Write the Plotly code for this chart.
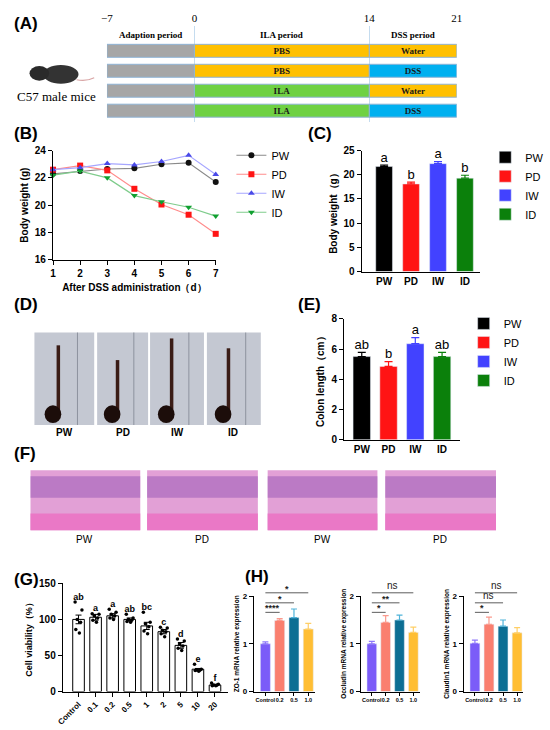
import plotly.graph_objects as go

W, H = 550, 730

# ---------------- data ----------------
period_edges = [-7, 0, 14, 21]
period_names = ["Adaption period", "ILA period", "DSS period"]
groups = ["PW", "PD", "IW", "ID"]
ila_treat = ["PBS", "PBS", "ILA", "ILA"]
dss_treat = ["Water", "DSS", "Water", "DSS"]

days = [1, 2, 3, 4, 5, 6, 7]
bw_pw = [22.3, 22.5, 22.65, 22.7, 23.0, 23.1, 21.7]
bw_pd = [22.6, 22.9, 22.55, 21.2, 20.05, 19.3, 17.9]
bw_iw = [22.6, 22.75, 23.05, 22.95, 23.2, 23.65, 22.25]
bw_id = [22.2, 22.5, 22.0, 20.7, 20.25, 19.85, 19.2]

final_bw = [21.7, 18.1, 22.3, 19.3]
final_bw_err = [0.3, 0.4, 0.4, 0.6]
final_bw_sig = ["a", "b", "a", "b"]

colon_len = [5.5, 4.85, 6.35, 5.5]
colon_err = [0.28, 0.32, 0.4, 0.28]
colon_sig = ["ab", "b", "a", "ab"]

via_labels = ["Control", "0.1", "0.2", "0.5", "1", "2", "5", "10", "20"]
via_mean = [100, 103, 105, 100, 91, 83, 64, 31, 9]
via_sem = [6, 4, 3, 2, 5, 3, 4, 1, 1]
via_points = [
    [124, 113, 100, 96, 86, 81],
    [108, 107, 105, 102, 99, 96],
    [114, 110, 107, 105, 102, 100],
    [107, 102, 100, 99, 97, 96],
    [110, 96, 94, 90, 84, 80],
    [89, 88, 85, 83, 80, 76],
    [73, 70, 66, 63, 60, 57],
    [38, 31, 30, 30, 29, 28],
    [12, 10, 9, 9, 8, 8],
]
via_sig = ["ab", "a", "a", "ab", "bc", "c", "d", "e", "f"]

h_groups = ["Control", "0.2", "0.5", "1.0"]
zo1 = [1.0, 1.49, 1.55, 1.31]
zo1_err = [0.04, 0.04, 0.18, 0.12]
zo1_sig = ["****", "*", "*"]
occ = [1.0, 1.45, 1.5, 1.24]
occ_err = [0.05, 0.14, 0.1, 0.11]
occ_sig = ["*", "**", "ns"]
cld = [1.01, 1.41, 1.37, 1.23]
cld_err = [0.07, 0.15, 0.13, 0.11]
cld_sig = ["*", "ns", "ns"]

# ---------------- styles ----------------
SANS = "Liberation Sans, Arial, sans-serif"
SERIF = "Liberation Serif, Times New Roman, serif"
treat_col = {"PBS": "#ffc000", "ILA": "#6fd143", "Water": "#ffc000", "DSS": "#00b0f0"}
bar_col = {"PW": "#000000", "PD": "#ff1414", "IW": "#4242ff", "ID": "#0b800b"}
line_col = {"PW": "#8a8a8a", "PD": "#ff8c8c", "IW": "#a6a6ff", "ID": "#7fcc8c"}
mark_col = {"PW": "#111111", "PD": "#ff1414", "IW": "#4a4ae8", "ID": "#10a030"}
mark_sym = {"PW": "circle", "PD": "square", "IW": "triangle-up", "ID": "triangle-down"}
h_col = ["#7b5cf8", "#fa7f6f", "#0c6e93", "#ffbe33"]
h_err_col = ["#8f78fa", "#fb9a8d", "#4fb3d9", "#ffcf66"]
bracket_lv = [1.66, 1.86, 2.07]
H_YMAX = 2


def xd(a, b):
    return [a / W, b / W]


def yd(top, bottom):
    return [1 - bottom / H, 1 - top / H]


def prism(**kw):
    d = dict(showline=True, linecolor="black", linewidth=1.2, ticks="outside",
             ticklen=4, tickwidth=1.2, tickcolor="black", showgrid=False,
             zeroline=False, tickfont=dict(size=10, family=SANS, weight="bold", color="black"))
    d.update(kw)
    return d


fig = go.Figure()

# ---------------- (A) timeline ----------------
rows = groups
fig.add_trace(go.Bar(y=rows, x=[period_edges[1] - period_edges[0]] * 4, base=period_edges[0],
                     orientation="h", width=0.65, marker=dict(color="#a6a6a6", line=dict(color="#8fb4d6", width=1)),
                     xaxis="x", yaxis="y", showlegend=False, hoverinfo="skip"))
fig.add_trace(go.Bar(y=rows, x=[period_edges[2] - period_edges[1]] * 4, base=period_edges[1],
                     orientation="h", width=0.65, text=ila_treat, textposition="inside",
                     insidetextanchor="middle", textangle=0, constraintext="none",
                     textfont=dict(family=SERIF, size=9, weight="bold", color="#1a1a1a"),
                     marker=dict(color=[treat_col[t] for t in ila_treat], line=dict(color="#8fb4d6", width=1)),
                     xaxis="x", yaxis="y", showlegend=False, hoverinfo="skip"))
fig.add_trace(go.Bar(y=rows, x=[period_edges[3] - period_edges[2]] * 4, base=period_edges[2],
                     orientation="h", width=0.65, text=dss_treat, textposition="inside",
                     insidetextanchor="middle", textangle=0, constraintext="none",
                     textfont=dict(family=SERIF, size=9, weight="bold", color="#1a1a1a"),
                     marker=dict(color=[treat_col[t] for t in dss_treat], line=dict(color="#8fb4d6", width=1)),
                     xaxis="x", yaxis="y", showlegend=False, hoverinfo="skip"))

# ---------------- (B) body weight over time ----------------
for g, vals in zip(groups, [bw_pw, bw_pd, bw_iw, bw_id]):
    fig.add_trace(go.Scatter(x=days, y=vals, name=g, mode="lines+markers", cliponaxis=False,
                             line=dict(color=line_col[g], width=1.2),
                             marker=dict(symbol=mark_sym[g], size=6, color=mark_col[g]),
                             xaxis="x2", yaxis="y2", legend="legend"))

# ---------------- (C) final body weight ----------------
for i, g in enumerate(groups):
    fig.add_trace(go.Bar(x=[g], y=[final_bw[i]], name=g, width=0.62, marker_color=bar_col[g],
                         error_y=dict(type="data", array=[final_bw_err[i]], arrayminus=[0], symmetric=False,
                                      color=bar_col[g], thickness=1.2, width=4),
                         xaxis="x3", yaxis="y3", legend="legend2"))
fig.add_trace(go.Scatter(x=groups, y=[v + e for v, e in zip(final_bw, final_bw_err)], text=final_bw_sig,
                         mode="text", textposition="top center", cliponaxis=False,
                         textfont=dict(size=13, family=SANS, color="black"),
                         xaxis="x3", yaxis="y3", showlegend=False))

# ---------------- (E) colon length ----------------
for i, g in enumerate(groups):
    fig.add_trace(go.Bar(x=[g], y=[colon_len[i]], name=g, width=0.65, marker_color=bar_col[g],
                         error_y=dict(type="data", array=[colon_err[i]], arrayminus=[0], symmetric=False,
                                      color=bar_col[g], thickness=1.2, width=4),
                         xaxis="x4", yaxis="y4", legend="legend3"))
fig.add_trace(go.Scatter(x=groups, y=[v + e for v, e in zip(colon_len, colon_err)], text=colon_sig,
                         mode="text", textposition="top center", cliponaxis=False,
                         textfont=dict(size=13, family=SANS, color="black"),
                         xaxis="x4", yaxis="y4", showlegend=False))

# ---------------- (G) cell viability ----------------
gx = list(range(len(via_labels)))
fig.add_trace(go.Bar(x=gx, y=via_mean, width=0.68, marker=dict(color="white", line=dict(color="black", width=1)),
                     error_y=dict(type="data", array=via_sem, color="black", thickness=1, width=3),
                     xaxis="x5", yaxis="y5", showlegend=False))
jit = [-0.2, 0.2, -0.08, 0.12, -0.16, 0.05]
px_, py_ = [], []
for i, pts in enumerate(via_points):
    for j, p in enumerate(pts):
        px_.append(i + jit[j % len(jit)])
        py_.append(p)
fig.add_trace(go.Scatter(x=px_, y=py_, mode="markers", marker=dict(color="black", size=3.5),
                         cliponaxis=False, xaxis="x5", yaxis="y5", showlegend=False))
fig.add_trace(go.Scatter(x=gx, y=[max(p) for p in via_points], text=via_sig, mode="text",
                         textposition="top center", cliponaxis=False,
                         textfont=dict(size=9, family=SANS, weight="bold", color="black"),
                         xaxis="x5", yaxis="y5", showlegend=False))

# ---------------- (H) mRNA expression ----------------
h_sets = [(zo1, zo1_err, zo1_sig, "6"), (occ, occ_err, occ_sig, "7"), (cld, cld_err, cld_sig, "8")]
shapes, annos = [], []
for vals, errs, sigs, n in h_sets:
    for i, g in enumerate(h_groups):
        fig.add_trace(go.Bar(x=[g], y=[vals[i]], width=0.7, marker_color=h_col[i],
                             error_y=dict(type="data", array=[errs[i]], arrayminus=[0], symmetric=False,
                                          color=h_err_col[i], thickness=1.2, width=3),
                             xaxis="x" + n, yaxis="y" + n, showlegend=False))
    # brackets sit above the top of the axis, so use the domain reference
    for k, s in enumerate(sigs):
        lv = bracket_lv[k] / H_YMAX
        shapes.append(dict(type="line", xref="x" + n, yref="y" + n + " domain", x0=0, x1=k + 1,
                           y0=lv, y1=lv, line=dict(color="#333", width=0.8)))
        annos.append(dict(xref="x" + n, yref="y" + n + " domain", x=(k + 1) / 2, y=lv, text=s,
                          showarrow=False, yanchor="bottom", yshift=-3 if s != "ns" else 0,
                          font=dict(size=9 if s != "ns" else 10, family=SANS, color="#222",
                                    weight="bold" if s != "ns" else "normal")))

# ---------------- photo placeholders ----------------
# (A) mouse
shapes.append(dict(type="path", xref="paper", yref="paper",
                   path=f"M {72/W},{1-75/H} Q {82/W},{1-77/H} {90/W},{1-73/H}",
                   line=dict(color="#d8a4a4", width=1.2)))
shapes.append(dict(type="circle", xref="paper", yref="paper", x0=38 / W, x1=74 / W, y0=1 - 79 / H, y1=1 - 60 / H,
                   fillcolor="#333333", line_width=0))
shapes.append(dict(type="circle", xref="paper", yref="paper", x0=24 / W, x1=44 / W, y0=1 - 76 / H, y1=1 - 61 / H,
                   fillcolor="#2a2a2a", line_width=0))
# (D) colons
d_boxes = [(29, 90, 345), (93, 145, 360), (147, 202, 338), (205, 260, 348)]
for a, b, top in d_boxes:
    shapes.append(dict(type="rect", xref="paper", yref="paper", x0=a / W, x1=b / W, y0=1 - 426 / H, y1=1 - 332 / H,
                       fillcolor="#c4c8d2", line_width=0, layer="below"))
    cx = a + 0.4 * (b - a)
    shapes.append(dict(type="line", xref="paper", yref="paper", x0=cx / W, x1=cx / W, y0=1 - 412 / H,
                       y1=1 - top / H, line=dict(color="#3a1c16", width=3.5)))
    shapes.append(dict(type="circle", xref="paper", yref="paper", x0=(cx - 14) / W, x1=(cx + 3) / W,
                       y0=1 - 424 / H, y1=1 - 406 / H, fillcolor="#1c0d0a", line_width=0))
    shapes.append(dict(type="line", xref="paper", yref="paper", x0=(a + 0.72 * (b - a)) / W,
                       x1=(a + 0.72 * (b - a)) / W, y0=1 - 426 / H, y1=1 - 332 / H,
                       line=dict(color="#8d929e", width=1)))
# (F) histology
f_boxes = [(25, 137), (144, 257), (267, 379), (387, 500)]
for a, b in f_boxes:
    shapes.append(dict(type="rect", xref="paper", yref="paper", x0=a / W, x1=b / W, y0=1 - 533 / H, y1=1 - 472 / H,
                       fillcolor="#e2a0d6", line_width=0, layer="below"))
    shapes.append(dict(type="rect", xref="paper", yref="paper", x0=a / W, x1=b / W, y0=1 - 533 / H, y1=1 - 516 / H,
                       fillcolor="#ea78c6", line_width=0, layer="below"))
    shapes.append(dict(type="rect", xref="paper", yref="paper", x0=a / W, x1=b / W, y0=1 - 500 / H, y1=1 - 478 / H,
                       fillcolor="#9a5bb8", opacity=0.55, line_width=0, layer="below"))


# ---------------- text ----------------
def ann(text, x, y, size=11, family=SANS, weight="normal", xanchor="center", color="black"):
    annos.append(dict(xref="paper", yref="paper", x=x / W, y=1 - y / H, text=text, showarrow=False,
                      xanchor=xanchor, yanchor="middle",
                      font=dict(size=size, family=family, weight=weight, color=color)))


for lab, x, y in [("(A)", 6, 18), ("(B)", 6, 130), ("(C)", 306, 130), ("(D)", 6, 303),
                  ("(E)", 296, 303), ("(F)", 6, 455), ("(G)", 6, 583), ("(H)", 242, 580)]:
    ann(lab, x, y, size=17, weight="bold", xanchor="left")

for name, a, b in zip(period_names, period_edges[:-1], period_edges[1:]):
    ann(name, 103 + ((a + b) / 2 + 7) / 28 * 357, 29, size=9, family=SERIF, weight="bold")
ann("C57 male mice", 52, 92, size=13, family=SERIF)
for g, x in zip(groups, [60, 119, 175, 232]):
    ann(g, x, 434, size=10, weight="bold")
for g, x in zip(["PW", "PD", "PW", "PD"], [80, 200, 323, 443]):
    ann(g, x, 542, size=10)

fig.update_layout(
    width=W, height=H, margin=dict(l=0, r=0, t=0, b=0),
    paper_bgcolor="white", plot_bgcolor="white", barmode="overlay",
    font=dict(family=SANS, color="black"),
    shapes=shapes, annotations=annos,
    xaxis=dict(domain=xd(103, 460), anchor="y", range=[-7, 21], side="top", tickvals=period_edges,
               showgrid=True, gridcolor="#c5dcef", gridwidth=1, zeroline=False, showline=False, ticks="",
               tickfont=dict(family=SERIF, size=11, color="black")),
    yaxis=dict(domain=yd(20, 118), anchor="x", type="category", categoryarray=groups[::-1],
               range=[-0.57, 4.26], visible=False),
    xaxis2=prism(domain=xd(48, 214), anchor="y2", range=[1, 7], dtick=1,
                 title=dict(text="After DSS administration（d）", font=dict(size=10, weight="bold"), standoff=6)),
    yaxis2=prism(domain=yd(147, 258), anchor="x2", range=[16, 24], dtick=2,
                 title=dict(text="Body weight (g)", font=dict(size=10, weight="bold"), standoff=4)),
    xaxis3=prism(domain=xd(363, 484), anchor="y3", type="category", range=[-0.83, 3.57], ticks=""),
    yaxis3=prism(domain=yd(147, 270), anchor="x3", range=[0, 25], dtick=5,
                 title=dict(text="Body weight（g）", font=dict(size=10, weight="bold"), standoff=4)),
    xaxis4=prism(domain=xd(345, 463), anchor="y4", type="category", range=[-0.66, 3.66], ticks=""),
    yaxis4=prism(domain=yd(318, 441), anchor="x4", range=[0, 8], dtick=2,
                 title=dict(text="Colon length（cm）", font=dict(size=10, weight="bold"), standoff=4)),
    xaxis5=prism(domain=xd(58, 227), anchor="y5", range=[-0.92, 8.79], tickvals=gx, ticktext=via_labels,
                 tickangle=-45, tickfont=dict(size=8, family=SANS, weight="bold", color="black")),
    yaxis5=prism(domain=yd(587, 697), anchor="x5", range=[0, 150], dtick=50,
                 title=dict(text="Cell viability（%）", font=dict(size=9, weight="bold"), standoff=4)),
    legend=dict(x=230 / W, y=1 - 137 / H, xanchor="left", yanchor="top", itemwidth=30,
                font=dict(size=11), bgcolor="rgba(0,0,0,0)"),
    legend2=dict(x=489 / W, y=1 - 139 / H, xanchor="left", yanchor="top", font=dict(size=11),
                 bgcolor="rgba(0,0,0,0)"),
    legend3=dict(x=467 / W, y=1 - 308 / H, xanchor="left", yanchor="top", font=dict(size=11),
                 bgcolor="rgba(0,0,0,0)"),
)

h_titles = ["ZO-1 mRNA relative expression", "Occludin mRNA relative expression",
            "Claudin1 mRNA relative expression"]
for (a, b), t, n in zip([(253, 315), (362, 422), (467, 528)], h_titles, ["6", "7", "8"]):
    fig.update_layout({
        "xaxis" + n: prism(domain=xd(a, b), anchor="y" + n, type="category", range=[-0.8, 3.45],
                           tickangle=0, ticklen=3,
                           tickfont=dict(size=5.5, family=SANS, weight="bold", color="black")),
        "yaxis" + n: prism(domain=yd(600, 697), anchor="x" + n, range=[0, H_YMAX], dtick=1,
                           tickfont=dict(size=8, family=SANS, weight="bold", color="black"),
                           title=dict(text=t, font=dict(size=6.5, weight="bold"), standoff=2)),
    })

fig.write_html("out.html", config={"displayModeBar": False},
               post_script="document.body.style.margin='0px';")
